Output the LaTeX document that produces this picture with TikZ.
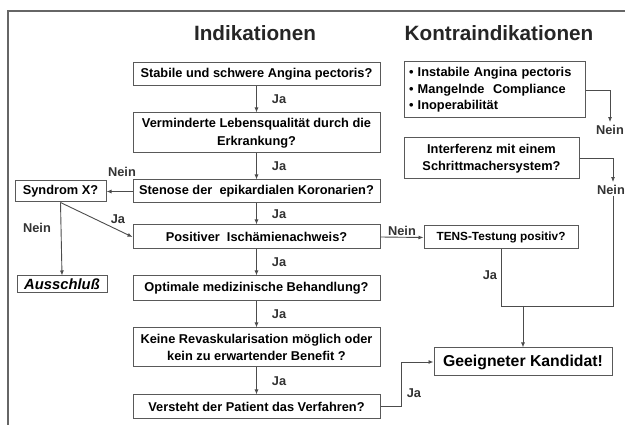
\documentclass[tikz,border=0pt]{standalone}
\usepackage{fontspec}
\setmainfont{Liberation Sans}
\usepackage{tikz}
\usetikzlibrary{arrows.meta}

\begin{document}
\begin{tikzpicture}[
        x=1pt, y=-1pt,
        font=\fontsize{12.8}{17.5}\selectfont\bfseries,
        box/.style={
            rectangle,
            draw=black!65,
            line width=1pt,
            align=center,
            inner sep=1pt,
            minimum width=247pt,
            minimum height=23pt
        },
        sidebox/.style={
            rectangle,
            draw=black!65,
            line width=1pt,
            align=left,
            inner sep=1pt
        },
        lbl/.style={inner sep=1pt, text=black!80},
        title/.style={font=\fontsize{20.7}{22}\selectfont\bfseries, text=black!85},
        arr/.style={-{Latex[length=5pt,width=4pt]}, draw=black!70, line width=0.9pt},
        line/.style={draw=black!70, line width=0.9pt}
    ]

    \useasboundingbox (0,0) rectangle (625,425);

    % Frame
    \draw[draw=black!60, line width=2pt] (8,425) -- (8,11) -- (625,11);

    % Column titles
    \node[title] (indtitle)    at (255,33) {Indikationen};
    \node[title] (kontratitle) at (499,33) {Kontraindikationen};

    % ---------- Left column: Indikationen ----------
    \node[box] (stabil)    at (256.5, 74.5) {Stabile und schwere Angina pectoris?};
    \node[box, minimum height=40pt] (lebens) at (256.5,133)
        {Verminderte Lebensqualität durch die\\Erkrankung?};
    \node[box] (stenose)   at (256.5,191.5) {Stenose der \ epikardialen Koronarien?};
    \node[box, minimum height=24pt] (ischaemie) at (256.5,237) {Positiver \ Ischämienachweis?};
    \node[box, minimum height=25pt] (optimal)   at (256.5,288.5) {Optimale medizinische Behandlung?};
    \node[box, minimum height=39pt] (revask)    at (256.5,347.5)
        {Keine Revaskularisation möglich oder\\kein zu erwartender Benefit ?};
    \node[box] (versteht)  at (256.5,406.5) {Versteht der Patient das Verfahren?};

    \node[sidebox, align=center, minimum width=91pt, minimum height=21pt] (syndrom) at (60.5,191.5) {Syndrom X?};
    \node[sidebox, align=center, minimum width=90pt, minimum height=17pt,
          font=\fontsize{14.8}{16}\selectfont\bfseries\itshape] (ausschluss) at (62,284.5) {Ausschluß};

    \draw[arr] (stabil) -- (lebens) node[lbl, midway, right=14pt] {Ja};
    \draw[arr] (lebens) -- (stenose) node[lbl, midway, right=14pt] {Ja};
    \draw[arr] (stenose) -- (ischaemie) node[lbl, midway, right=14pt] {Ja};
    \draw[arr] (ischaemie) -- (optimal) node[lbl, midway, right=14pt] {Ja};
    \draw[arr] (optimal) -- (revask) node[lbl, midway, right=14pt] {Ja};
    \draw[arr] (revask) -- (versteht) node[lbl, midway, right=14pt] {Ja};

    \draw[arr] (stenose) -- (syndrom);
    \node[lbl] (neinsyn) at (122,172) {Nein};
    \draw[arr] (syndrom.south) -- (ausschluss.north);
    \node[lbl] (neinaus) at (37,228) {Nein};
    \draw[arr] (syndrom.south) -- (ischaemie.west);
    \node[lbl] (jasyn) at (118,219) {Ja};

    % ---------- Right column: Kontraindikationen ----------
    \node[sidebox, text width=171pt, minimum height=56pt, inner sep=5pt,
          font=\fontsize{12.8}{16.5}\selectfont\bfseries] (kontra) at (494.5,90)
        {\textbullet\ Instabile Angina pectoris\\
         \textbullet\ Mangelnde \ Compliance\\
         \textbullet\ Inoperabilität};
    \node[sidebox, align=center, minimum width=175pt, minimum height=41pt] (schritt) at (491.5,158.5)
        {Interferenz mit einem\\Schrittmachersystem?};
    \node[sidebox, align=center, minimum width=154pt, minimum height=23pt,
          font=\fontsize{11.8}{13}\selectfont\bfseries] (tens) at (501,237.5)
        {TENS-Testung positiv?};
    \node[sidebox, align=center, minimum width=178pt, minimum height=28pt,
          font=\fontsize{15.8}{17}\selectfont\bfseries] (geeignet) at (523,362) {Geeigneter Kandidat!};

    \node[lbl] (neinkontra)  at (610,130) {Nein};
    \node[lbl] (neinschritt) at (611,190) {Nein};
    \coordinate (merge) at (523,306);

    \draw[arr] (kontra.east) -| ([yshift=2pt]neinkontra.north);
    \draw[arr] (schritt.east) -| ([xshift=2pt,yshift=2pt]neinschritt.north);
    \draw[line] ([xshift=2pt]neinschritt.south) |- (merge);
    \draw[line] (tens.south) |- (merge);
    \node[lbl] (jatens) at (490,275) {Ja};
    \draw[arr] (merge) -- (geeignet.north);

    \draw[arr] (ischaemie.east) -- (tens.west) node[lbl, midway, above] {Nein};
    \draw[arr] (versteht.east) -- ++(21,0) |- (geeignet.west);
    \node[lbl] (javersteht) at (414,393) {Ja};

\end{tikzpicture}
\end{document}
